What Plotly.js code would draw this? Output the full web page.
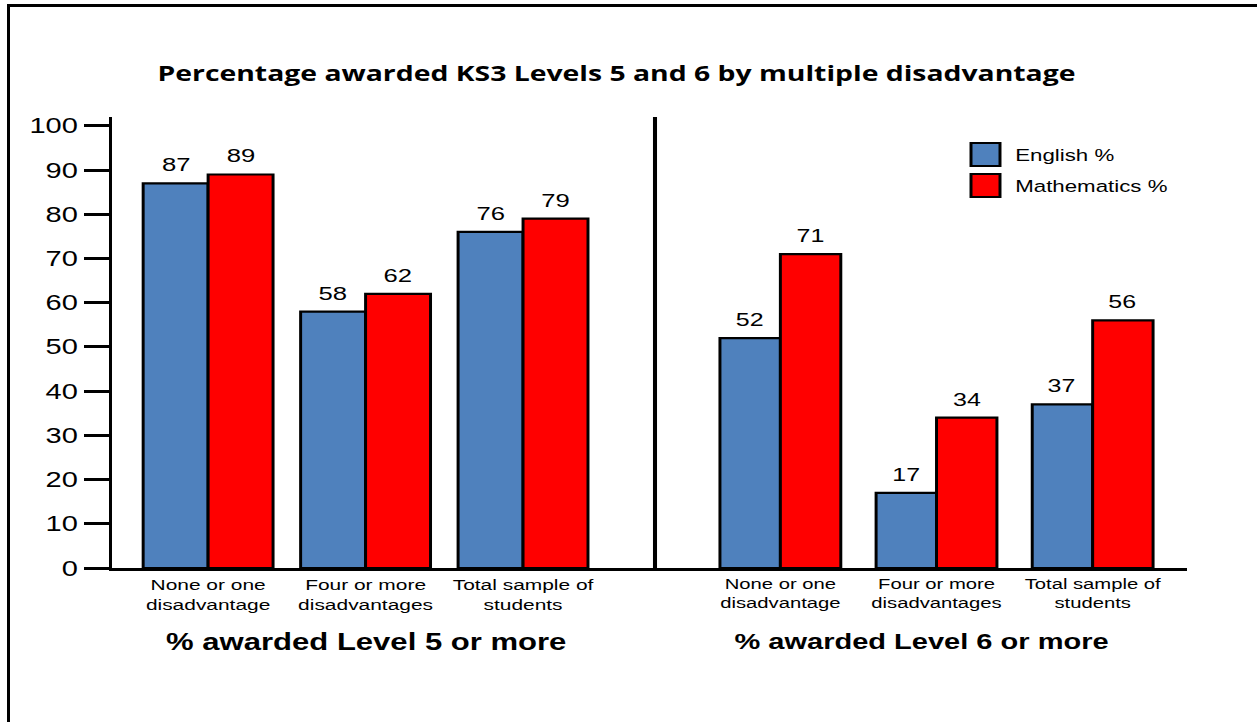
<!DOCTYPE html>
<html>
<head>
<meta charset="utf-8">
<script src="https://cdn.plot.ly/plotly-3.0.1.min.js"></script>
<style>
  html, body { margin: 0; padding: 0; background: #ffffff; overflow: hidden; }
  #wrap { position: absolute; left: 0; top: 0; width: 931px; height: 722px; transform: scaleX(1.35); transform-origin: 0 0; }
  #frame { position: absolute; left: 7px; top: 4px; width: 1300px; height: 800px; border-top: 3px solid #000; border-left: 3px solid #000; pointer-events: none; }
</style>
</head>
<body>
<div id="wrap"><div id="chart"></div></div>
<div id="frame"></div>
<script>
// ---- data ----
const categories = ["None or one<br>disadvantage", "Four or more<br>disadvantages", "Total sample of<br>students"];
const seriesNames = ["English %", "Mathematics %"];
const englishLevel5 = [87, 58, 76];
const mathsLevel5 = [89, 62, 79];
const englishLevel6 = [52, 17, 37];
const mathsLevel6 = [71, 34, 56];
const yTicks = [0, 10, 20, 30, 40, 50, 60, 70, 80, 90, 100];
const panelTitles = ["% awarded Level 5 or more", "% awarded Level 6 or more"];
const chartTitle = "Percentage awarded KS3 Levels 5 and 6 by multiple disadvantage";

// ---- geometry helpers (layout only) ----
const S = 1.35, W = 931, H = 722, L = 83, R = 52, T = 117, B = 154;
const PW = W - L - R, PH = H - T - B;
const px = x => (x / S - L) / PW;          // page x -> paper x
const py = y => (H - B - y) / PH;          // page y -> paper y
const split = px(655);

const blue = "#4F81BD", red = "#FF0000";
const wL = 0.4125, wR = 0.387;
const lineSpec = { color: "#000", width: 2.2 };
const FONT = "Liberation Sans, Arial";

function barTrace(name, vals, axis, color, w, off) {
  return {
    type: "bar", name: name, x: categories, y: vals, xaxis: axis, yaxis: "y",
    width: w, offset: off, marker: { color: color, line: lineSpec },
    hoverinfo: "name+y", showlegend: false
  };
}

const traces = [
  barTrace(seriesNames[0], englishLevel5, "x", blue, wL, -wL),
  barTrace(seriesNames[1], mathsLevel5, "x", red, wL, 0),
  barTrace(seriesNames[0], englishLevel6, "x2", blue, wR, -wR),
  barTrace(seriesNames[1], mathsLevel6, "x2", red, wR, 0)
];

const annotations = [];
function valueLabels(vals, axis, center, size) {
  vals.forEach((v, i) => annotations.push({
    x: i + center, y: v, xref: axis, yref: "y", text: String(v), showarrow: false,
    yanchor: "bottom", yshift: 6, font: { family: FONT, size: size, color: "#000" }
  }));
}
valueLabels(englishLevel5, "x", -wL / 2, 19);
valueLabels(mathsLevel5, "x", wL / 2, 19);
valueLabels(englishLevel6, "x2", -wR / 2, 18.5);
valueLabels(mathsLevel6, "x2", wR / 2, 18.5);

// panel titles
annotations.push({ x: px(366), y: py(642), xref: "paper", yref: "paper", text: "<b>" + panelTitles[0] + "</b>",
  showarrow: false, xanchor: "center", yanchor: "middle", font: { family: FONT, size: 23, color: "#000" } });
annotations.push({ x: px(921), y: py(642), xref: "paper", yref: "paper", text: "<b>" + panelTitles[1] + "</b>",
  showarrow: false, xanchor: "center", yanchor: "middle", font: { family: FONT, size: 21.5, color: "#000" } });

// custom legend
const legendRows = [{ top: 143, bot: 166, mid: 155, color: blue }, { top: 174, bot: 197, mid: 186, color: red }];
const shapes = [];
legendRows.forEach((r, i) => {
  shapes.push({ type: "rect", xref: "paper", yref: "paper", x0: px(971), x1: px(1000), y0: py(r.bot), y1: py(r.top),
    fillcolor: r.color, line: { color: "#000", width: 2.2 } });
  annotations.push({ x: px(1012), y: py(r.mid), xref: "paper", yref: "paper", text: seriesNames[i], showarrow: false,
    xanchor: "left", yanchor: "middle", font: { family: FONT, size: 16.5, color: "#000" } });
});
// divider between panels
shapes.push({ type: "line", xref: "paper", yref: "paper", x0: split, x1: split, y0: 0, y1: 1, line: { color: "#000", width: 3 } });

const layout = {
  width: W, height: H,
  margin: { l: L, r: R, t: T, b: B },
  paper_bgcolor: "rgba(0,0,0,0)", plot_bgcolor: "rgba(0,0,0,0)",
  showlegend: false,
  title: { text: "<b>" + chartTitle + "</b>", xref: "paper", x: px(616.5), xanchor: "center",
    yref: "container", y: 1 - 74 / H, yanchor: "middle",
    font: { family: "Open Sans", size: 21, color: "#000" } },
  xaxis: { domain: [0, split], anchor: "y", type: "category", range: [-0.61, 2.838],
    showline: true, linecolor: "#000", linewidth: 3, ticks: "", showgrid: false, zeroline: false,
    tickfont: { family: FONT, size: 15.5, color: "#000" }, fixedrange: true },
  xaxis2: { domain: [split, 1], anchor: "y", type: "category", range: [-0.803, 2.602],
    showline: true, linecolor: "#000", linewidth: 3, ticks: "", showgrid: false, zeroline: false,
    tickfont: { family: FONT, size: 15, color: "#000" }, fixedrange: true },
  yaxis: { range: [0, 102], tickvals: yTicks, ticktext: yTicks.map(String), ticks: "outside", ticklen: 18.5, tickwidth: 3,
    tickcolor: "#000", showline: true, linecolor: "#000", linewidth: 2.5, showgrid: false, zeroline: false,
    tickfont: { family: FONT, size: 21.5, color: "#000" }, fixedrange: true },
  annotations: annotations,
  shapes: shapes
};

Plotly.newPlot("chart", traces, layout, { displayModeBar: false, staticPlot: true });
</script>
</body>
</html>
